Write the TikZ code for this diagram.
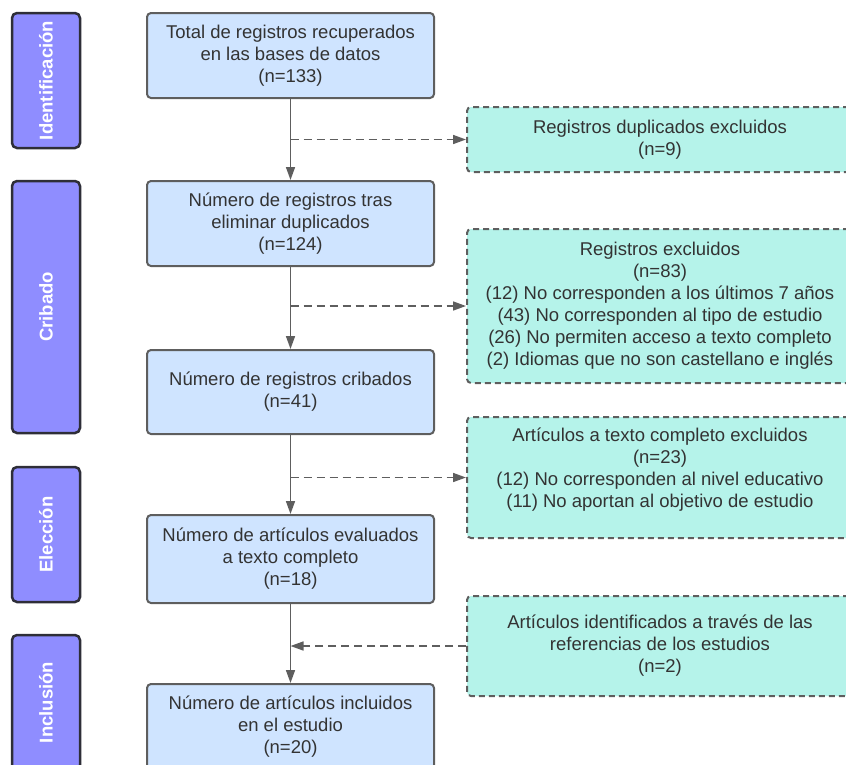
\documentclass[tikz,border=0pt]{standalone}
\usepackage{fontspec}
\setmainfont{Liberation Sans}
\usetikzlibrary{arrows.meta,positioning}
\definecolor{boxblue}{HTML}{CFE4FF}
\definecolor{boxteal}{HTML}{B5F3EA}
\definecolor{phasepurple}{HTML}{8F8DFF}
\definecolor{phaseedge}{HTML}{2E2E38}
\definecolor{linegray}{HTML}{5E5E5E}
\definecolor{txtgray}{HTML}{333333}
\tikzset{
  txt/.style={align=center, text=txtgray, font=\fontsize{18.5}{22}\selectfont, inner sep=0pt},
  mainbox/.style={txt, draw=linegray, line width=2pt, fill=boxblue, rounded corners=4pt, minimum width=287pt, minimum height=85pt},
  exclbox/.style={mainbox, fill=boxteal, dash pattern=on 6pt off 4pt, minimum width=386pt},
  phasebox/.style={draw=phaseedge, line width=2.5pt, fill=phasepurple, rounded corners=5pt, minimum height=68pt, rotate=90, text=white, font=\fontsize{18.5}{22}\selectfont\bfseries, inner sep=0pt},
  flow/.style={draw=linegray, line width=1.6pt, -{Triangle[length=13pt,width=9pt]}},
  skip/.style={flow, dash pattern=on 8pt off 5pt},
}
\begin{document}
\begin{tikzpicture}[x=1pt,y=-1pt]
  \useasboundingbox (0,0) rectangle (846,764);
  \clip (0,0) rectangle (846,764);
  % phases
  \node (ident) [phasebox, minimum width=135pt] at (46,80.5) {Identificación};
  \node (crib) [phasebox, minimum width=252pt] at (46,307) {Cribado};
  \node (elec) [phasebox, minimum width=135pt] at (46,534.5) {Elección};
  \node (incl) [phasebox, minimum width=135pt] at (46,702.5) {Inclusión};
  % main flow
  \node (b1) [mainbox] at (290.5,55.5) {Total de registros recuperados\\en las bases de datos\\(n=133)};
  \node (b2) [mainbox] at (290.5,223.5) {Número de registros tras\\eliminar duplicados\\(n=124)};
  \node (b3) [mainbox, minimum height=84pt] at (290.5,392) {Número de registros cribados\\(n=41)};
  \node (b4) [mainbox, minimum height=88pt] at (290.5,559) {Número de artículos evaluados\\a texto completo\\(n=18)};
  \node (b5) [mainbox] at (290.5,726.5) {Número de artículos incluidos\\en el estudio\\(n=20)};
  % side boxes
  \node (r1) [exclbox, minimum height=65pt] at (660,139.5) {Registros duplicados excluidos\\(n=9)};
  \node (r2) [exclbox, minimum height=154pt] at (660,306) {Registros excluidos\\(n=83)\\(12) No corresponden a los últimos 7 años\\(43) No corresponden al tipo de estudio\\(26) No permiten acceso a texto completo\\(2) Idiomas que no son castellano e inglés};
  \node (r3) [exclbox, minimum height=121pt] at (660,477.5) {};
  \node (r3t) [txt] at ([yshift=7.5pt]r3.center) {Artículos a texto completo excluidos\\(n=23)\\(12) No corresponden al nivel educativo\\(11) No aportan al objetivo de estudio};
  \node (r4) [exclbox, minimum height=100pt] at (660,646) {Artículos identificados a través de las\\referencias de los estudios\\(n=2)};
  % junctions
  \coordinate (j1) at (b1.south |- r1.west);
  \coordinate (j2) at (b2.south |- r2.west);
  \coordinate (j3) at (b3.south |- r3.west);
  \coordinate (j4) at (b4.south |- r4.west);
  % connectors
  \draw[flow] (b1) -- (b2);
  \draw[flow] (b2) -- (b3);
  \draw[flow] (b3) -- (b4);
  \draw[flow] (b4) -- (b5);
  \draw[skip] (j1) -- (r1);
  \draw[skip] (j2) -- (r2);
  \draw[skip] (j3) -- (r3);
  \draw[skip] (r4) -- (j4);
\end{tikzpicture}
\end{document}
